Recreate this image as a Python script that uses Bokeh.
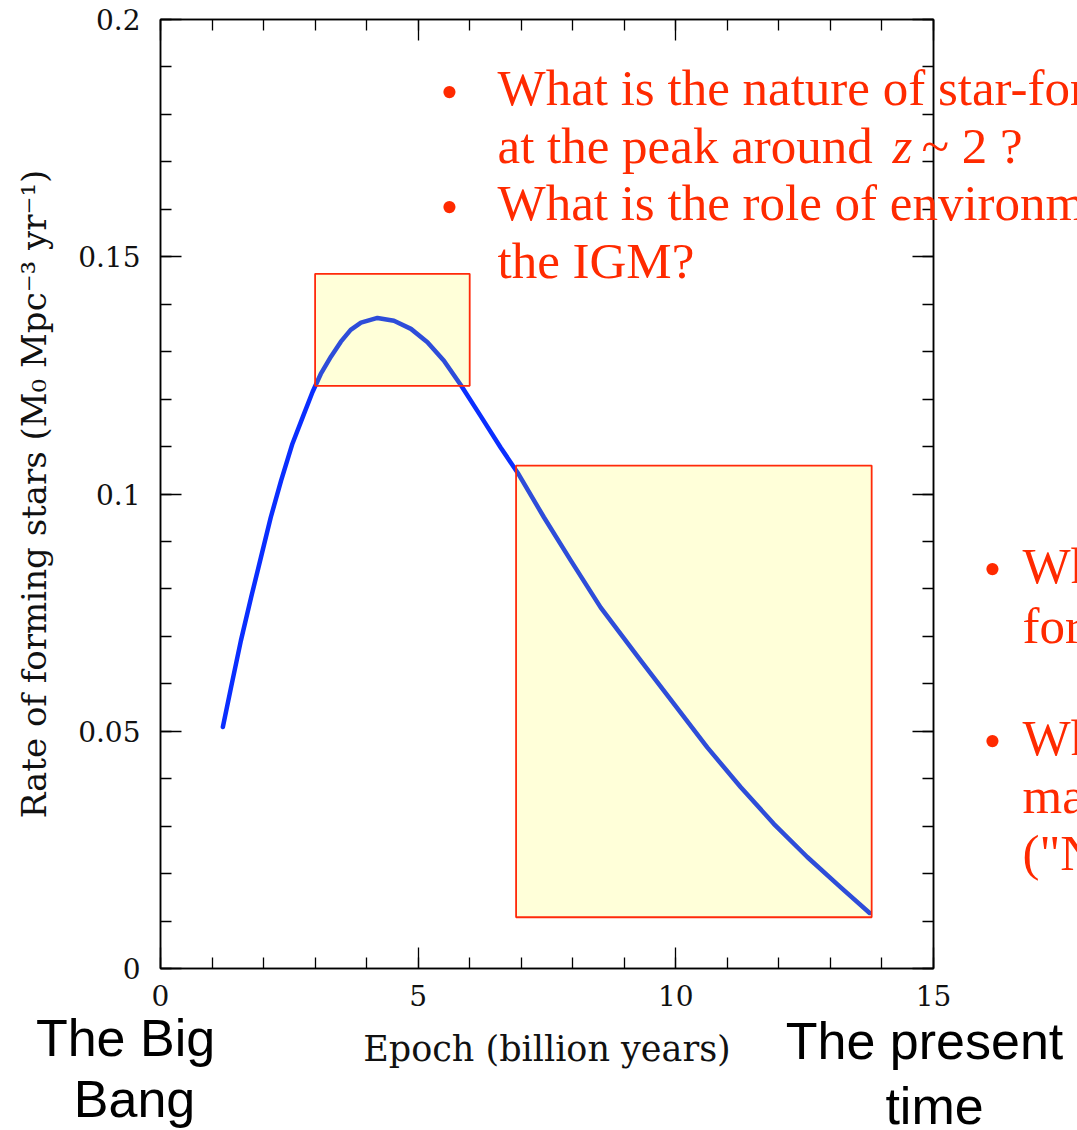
from bokeh.plotting import figure
from bokeh.models import Range1d, LinearAxis, SingleIntervalTicker, Label, PrintfTickFormatter, CustomJSTickFormatter
from bokeh.embed import file_html
from bokeh.resources import INLINE

# ---- data ----
epoch = [1.21, 1.37, 1.56, 1.76, 1.95, 2.14, 2.34, 2.56, 2.76, 2.95, 3.11, 3.31, 3.50,
         3.69, 3.89, 4.21, 4.53, 4.86, 5.18, 5.50, 5.83, 6.22, 6.60, 6.93, 7.44, 7.96,
         8.54, 9.32, 9.96, 10.61, 11.26, 11.90, 12.55, 13.20, 13.76]
sfr = [0.0509, 0.0593, 0.0691, 0.0783, 0.0867, 0.0951, 0.1028, 0.1106, 0.1162, 0.1215,
       0.1253, 0.1290, 0.1321, 0.1346, 0.1361, 0.1371, 0.1365, 0.1348, 0.1320, 0.1281,
       0.1229, 0.1163, 0.1098, 0.1045, 0.0951, 0.0860, 0.0761, 0.0649, 0.0558, 0.0466,
       0.0382, 0.0305, 0.0235, 0.0171, 0.0117]

box_left = [3.0, 6.9]
box_right = [6.0, 13.8]
box_bottom = [0.1228, 0.0108]
box_top = [0.1464, 0.1060]

x_title = "Epoch (billion years)"
y_title = "Rate of forming stars (M\u2080 Mpc\u207b\u00b3 yr\u207b\u00b9)"

W, H = 1077, 1130

# ---- main chart ----
p = figure(width=W, height=H, x_range=Range1d(0, 15), y_range=Range1d(0, 0.2),
           output_backend="svg", toolbar_location=None,
           min_border_left=160, min_border_right=144, min_border_top=19, min_border_bottom=162)
p.xgrid.grid_line_color = None
p.ygrid.grid_line_color = None
p.outline_line_color = "black"
p.outline_line_width = 1.5

serif = "DejaVu Serif"


def style_axis(ax):
    ax.axis_line_color = "black"
    ax.axis_line_width = 1.5
    ax.major_tick_line_color = "black"
    ax.minor_tick_line_color = "black"
    ax.major_tick_line_width = 1.3
    ax.minor_tick_line_width = 1.3
    ax.major_tick_in = 21
    ax.major_tick_out = 0
    ax.minor_tick_in = 11
    ax.minor_tick_out = 0
    ax.major_label_text_font = serif
    ax.major_label_text_font_size = "28px"
    ax.major_label_text_color = "#111111"
    ax.axis_label_text_font = serif
    ax.axis_label_text_font_style = "normal"
    ax.axis_label_text_color = "#111111"


p.xaxis.ticker = SingleIntervalTicker(interval=5, num_minor_ticks=5)
p.yaxis.ticker = SingleIntervalTicker(interval=0.05, num_minor_ticks=5)
for ax in p.xaxis + p.yaxis:
    style_axis(ax)
p.yaxis.formatter = PrintfTickFormatter(format="%.3g")
p.xaxis.axis_label = x_title
p.yaxis.axis_label = y_title
p.xaxis.axis_label_text_font_size = "35px"
p.yaxis.axis_label_text_font_size = "34px"
p.xaxis.major_label_standoff = 16
p.yaxis.major_label_standoff = 20
p.xaxis.axis_label_standoff = 20
p.yaxis.axis_label_standoff = 21

blank = CustomJSTickFormatter(code="return ''")
top_ax = LinearAxis(ticker=SingleIntervalTicker(interval=5, num_minor_ticks=5), formatter=blank)
right_ax = LinearAxis(ticker=SingleIntervalTicker(interval=0.05, num_minor_ticks=5), formatter=blank)
for ax in (top_ax, right_ax):
    style_axis(ax)
    ax.major_label_standoff = 0
    ax.major_label_text_font_size = "1px"
p.add_layout(top_ax, "above")
p.add_layout(right_ax, "right")

p.line(epoch, sfr, line_color="#0A2EFF", line_width=4.5, line_cap="round", line_join="round")
p.quad(left=box_left, right=box_right, bottom=box_bottom, top=box_top,
       fill_color="#FFFF00", fill_alpha=0.15, line_color="#FF2A0A", line_width=1.8)

# ---- transparent overlay for the slide texts (page pixel coordinates) ----
ov = figure(width=W, height=H, x_range=Range1d(0, W), y_range=Range1d(H, 0),
            output_backend="svg", toolbar_location=None, min_border=0,
            x_axis_location=None, y_axis_location=None,
            styles={"position": "absolute", "top": "0px", "left": "0px"})
ov.xgrid.visible = False
ov.ygrid.visible = False
ov.outline_line_color = None
ov.background_fill_alpha = 0
ov.border_fill_alpha = 0

red = "#FF2A00"
rfont = "Liberation Serif"
rsize = "51px"


def add_text(txt, px, py, font, size, color, align="left", style="normal"):
    ov.add_layout(Label(x=px, y=py, text=txt, text_font=font, text_font_size=size,
                        text_color=color, text_align=align, text_baseline="alphabetic",
                        text_font_style=style))


bullet_texts = [("What is the nature of star-for", 87),
                ("at the peak around", 145),
                ("What is the role of environm", 202),
                ("the IGM?", 260)]
for t, by in bullet_texts:
    add_text(t, 497, by, rfont, rsize, red)
add_text("z", 892, 145, rfont, rsize, red, style="italic")
add_text("~ 2 ?", 921, 145, rfont, rsize, red)
add_text("\u2022", 449, 91, rfont, rsize, red, align="center")
add_text("\u2022", 449, 206, rfont, rsize, red, align="center")

right_texts = [("Wh", 565), ("for", 625), ("Wh", 737), ("ma", 795), ("(\"N", 852)]
for t, by in right_texts:
    add_text(t, 1022, by, rfont, rsize, red)
add_text("\u2022", 992, 568, rfont, rsize, red, align="center")
add_text("\u2022", 992, 740, rfont, rsize, red, align="center")

black_font = "Liberation Sans"
bsize = "52px"
add_text("The Big", 125, 1037, black_font, bsize, "black", align="center")
add_text("Bang", 134, 1098, black_font, bsize, "black", align="center")
add_text("The present", 924, 1040, black_font, bsize, "black", align="center")
add_text("time", 934, 1105, black_font, bsize, "black", align="center")

open("out.html", "w").write(file_html([p, ov], INLINE))
